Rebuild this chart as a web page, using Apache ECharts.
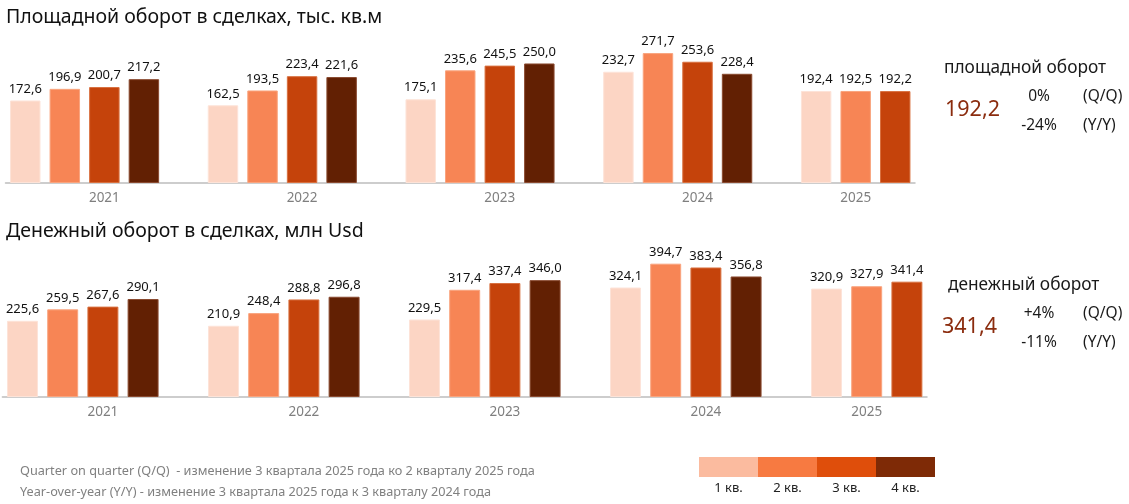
<!DOCTYPE html>
<html>
<head>
<meta charset="utf-8">
<script src="https://cdn.jsdelivr.net/npm/echarts@6/dist/echarts.min.js"></script>
<style>
html,body{margin:0;padding:0;background:#fff;}
#chart{width:1129px;height:504px;}
</style>
</head>
<body>
<div id="chart"></div>
<script>
// ---- data ----
const years = ['2021', '2022', '2023', '2024', '2025'];
const quarterNames = ['1 кв.', '2 кв.', '3 кв.', '4 кв.'];
const areaQ1 = [172.6, 162.5, 175.1, 232.7, 192.4];
const areaQ2 = [196.9, 193.5, 235.6, 271.7, 192.5];
const areaQ3 = [200.7, 223.4, 245.5, 253.6, 192.2];
const areaQ4 = [217.2, 221.6, 250.0, 228.4, null];
const moneyQ1 = [225.6, 210.9, 229.5, 324.1, 320.9];
const moneyQ2 = [259.5, 248.4, 317.4, 394.7, 327.9];
const moneyQ3 = [267.6, 288.8, 337.4, 383.4, 341.4];
const moneyQ4 = [290.1, 296.8, 346.0, 356.8, null];

const titleTop = 'Площадной оборот в сделках, тыс. кв.м';
const titleBottom = 'Денежный оборот в сделках, млн Usd';
const areaPanel = { name: 'площадной оборот', value: '192,2', qq: '0%', yy: '-24%' };
const moneyPanel = { name: 'денежный оборот', value: '341,4', qq: '+4%', yy: '-11%' };
const notes = [
  'Quarter on quarter (Q/Q)  - изменение 3 квартала 2025 года ко 2 кварталу 2025 года',
  'Year-over-year (Y/Y) - изменение 3 квартала 2025 года к 3 кварталу 2024 года'
];

// ---- styles ----
const barColors = ['#FCD5C4', '#F78555', '#C5430B', '#622003'];
const barBorders = ['#FDE3D8', '#F9A47E', '#D8703F', '#8A4A30'];
const legendColors = ['#FBBB9F', '#F77A41', '#DF4E0B', '#7E2A06'];
const FONT = 'Noto Sans';

// Build slot layout: each year = its quarters + one blank slot (except the last year)
function buildSlots(qArrays) {
  const labels = [];
  const series = qArrays.map(() => []);
  years.forEach((y, yi) => {
    const count = qArrays.filter(a => a[yi] != null).length;
    const n = count + (yi < years.length - 1 ? 1 : 0);
    const center = Math.floor(n / 2);
    for (let s = 0; s < n; s++) {
      labels.push(s === center ? y : '');
      qArrays.forEach((a, qi) => {
        series[qi].push(s === qi && s < count ? a[yi] : null);
      });
    }
  });
  return { labels, series };
}

const slotsArea = buildSlots([areaQ1, areaQ2, areaQ3, areaQ4]);
const slotsMoney = buildSlots([moneyQ1, moneyQ2, moneyQ3, moneyQ4]);

const fmt = p => p.value == null ? '' : p.value.toFixed(1).replace('.', ',');

function makeSeries(slots, axisIdx) {
  return slots.series.map((d, qi) => ({
    name: quarterNames[qi],
    type: 'bar',
    xAxisIndex: axisIdx,
    yAxisIndex: axisIdx,
    data: d,
    barGap: '-100%',
    barCategoryGap: '23%',
    itemStyle: { color: barColors[qi], borderColor: barBorders[qi], borderWidth: 1 },
    label: {
      show: true, position: 'top', distance: 5,
      formatter: fmt, color: '#111', fontSize: 13, fontFamily: FONT
    },
    animation: false
  }));
}

function xAxisDef(slots, gridIndex) {
  return {
    type: 'category', gridIndex, data: slots.labels,
    axisTick: { show: false },
    axisLine: { lineStyle: { color: '#BDBDBD', width: 1.5 } },
    axisLabel: { interval: 0, color: '#7F7F7F', fontSize: 13.5, fontFamily: FONT, margin: 8 }
  };
}
function yAxisDef(gridIndex, max) {
  return {
    type: 'value', gridIndex, min: 0, max,
    show: false, splitLine: { show: false }
  };
}

function panelText(p, baseY, nameX, valX) {
  return [
    { type: 'text', x: nameX, y: baseY, style: { text: p.name, font: '17.3px ' + FONT, fill: '#1a1a1a', verticalAlign: 'middle' } },
    { type: 'text', x: valX, y: baseY + 42, style: { text: p.value, font: '21.5px ' + FONT, fill: '#8B2C0E', verticalAlign: 'middle' } },
    { type: 'text', x: 1039, y: baseY + 29, style: { text: p.qq, font: '15.5px ' + FONT, fill: '#1a1a1a', align: 'center', verticalAlign: 'middle' } },
    { type: 'text', x: 1039, y: baseY + 58, style: { text: p.yy, font: '15.5px ' + FONT, fill: '#1a1a1a', align: 'center', verticalAlign: 'middle' } },
    { type: 'text', x: 1083, y: baseY + 29, style: { text: '(Q/Q)', font: '15.5px ' + FONT, fill: '#1a1a1a', verticalAlign: 'middle' } },
    { type: 'text', x: 1083, y: baseY + 58, style: { text: '(Y/Y)', font: '15.5px ' + FONT, fill: '#1a1a1a', verticalAlign: 'middle' } }
  ];
}

const graphics = [
  { type: 'text', x: 6, y: 17, style: { text: titleTop, font: '19.5px ' + FONT, fill: '#111', verticalAlign: 'middle' } },
  { type: 'text', x: 6, y: 231, style: { text: titleBottom, font: '19.5px ' + FONT, fill: '#111', verticalAlign: 'middle' } },
  { type: 'text', x: 20, y: 471, style: { text: notes[0], font: '12.7px ' + FONT, fill: '#808080', verticalAlign: 'middle' } },
  { type: 'text', x: 20, y: 492, style: { text: notes[1], font: '12.7px ' + FONT, fill: '#808080', verticalAlign: 'middle' } }
].concat(panelText(areaPanel, 68, 944, 945), panelText(moneyPanel, 285, 948, 942));

quarterNames.forEach((q, i) => {
  graphics.push({ type: 'rect', shape: { x: 699 + i * 59, y: 457, width: 59, height: 20 }, style: { fill: legendColors[i] } });
  graphics.push({ type: 'text', x: 728.5 + i * 59, y: 488, style: { text: q, font: '13px ' + FONT, fill: '#222', align: 'center', verticalAlign: 'middle' } });
});

const chart = echarts.init(document.getElementById('chart'), null, { renderer: 'canvas' });
chart.setOption({
  animation: false,
  backgroundColor: '#fff',
  grid: [
    { left: 5.5, right: 214, top: 30, bottom: 321 },
    { left: 2.4, right: 202, top: 245, bottom: 107 }
  ],
  xAxis: [xAxisDef(slotsArea, 0), xAxisDef(slotsMoney, 1)],
  yAxis: [yAxisDef(0, 320), yAxisDef(1, 450)],
  series: makeSeries(slotsArea, 0).concat(makeSeries(slotsMoney, 1)),
  graphic: graphics
});
</script>
</body>
</html>
